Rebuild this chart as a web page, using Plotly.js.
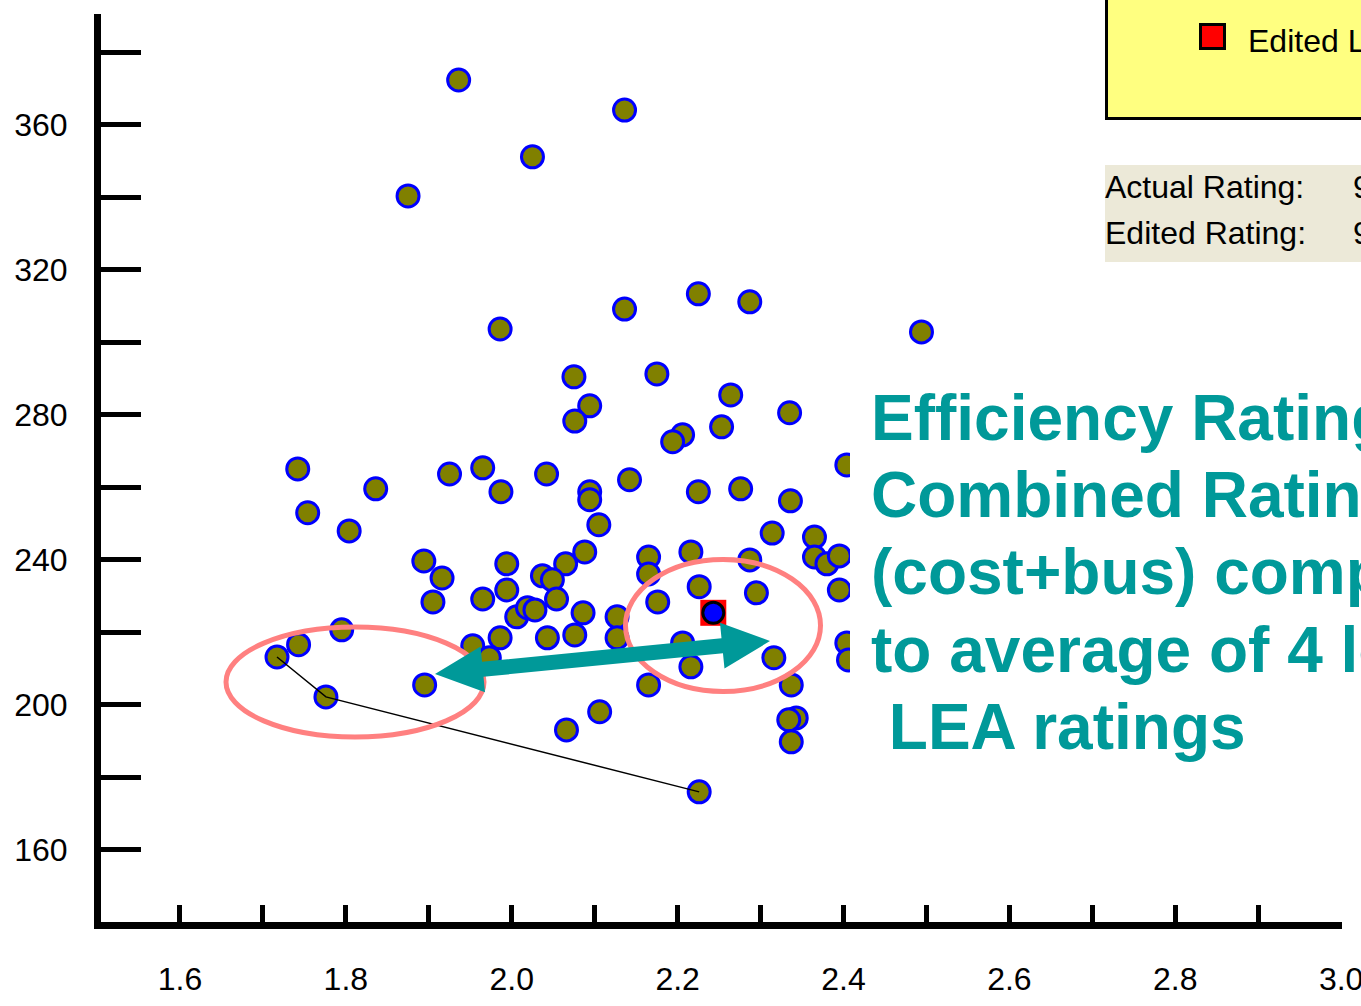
<!DOCTYPE html>
<html>
<head>
<meta charset="utf-8">
<script src="https://cdn.plot.ly/plotly-3.0.1.min.js"></script>
<style>
  html, body { margin: 0; padding: 0; background: #ffffff; overflow: hidden; }
  #chart { width: 1361px; height: 1006px; }
</style>
</head>
<body>
<div id="chart"></div>
<script>
// ---- Data ----
const leaX = [
  1.936, 2.136, 2.025, 1.875, 1.986, 2.136, 2.225, 2.287, 2.494,
  2.075, 2.175, 2.094, 2.076, 2.264, 2.335, 2.206, 2.194, 2.253,
  1.742, 1.925, 1.965, 2.042, 2.142, 2.404,
  1.836, 1.754, 1.987, 2.094, 2.094, 2.225, 2.276, 2.336,
  2.105, 1.804, 2.314,
  2.365, 2.365, 2.380, 2.395, 2.395,
  1.894, 1.916, 1.905,
  1.994, 2.088, 2.065, 2.037, 2.049,
  1.965, 1.994, 2.054,
  2.006, 2.019, 2.028, 2.086, 2.127,
  1.986, 2.043, 2.076, 2.127, 1.953, 1.973,
  2.165, 2.165, 2.216, 2.287, 2.226, 2.295, 2.176,
  2.206, 2.216, 2.165, 2.316, 2.337, 2.343, 2.334, 2.337, 2.404, 2.406,
  1.795, 1.743, 1.717, 1.776, 1.895,
  2.106, 2.066, 2.226
];
const leaY = [
  372.4, 364.1, 351.2, 340.4, 303.7, 309.2, 313.4, 311.2, 302.9,
  290.5, 291.3, 282.5, 278.3, 285.5, 280.6, 274.5, 272.6, 276.7,
  265.1, 263.7, 265.4, 263.7, 262.1, 266.2,
  259.6, 253.0, 258.8, 258.8, 256.6, 258.8, 259.6, 256.3,
  249.7, 248.0, 247.4,
  246.3, 240.8, 238.9, 241.1, 231.7,
  239.7, 235.0, 228.4,
  238.9, 242.2, 238.9, 235.6, 234.5,
  229.2, 231.7, 229.2,
  224.3, 226.8, 226.2, 225.4, 224.3,
  218.5, 218.5, 219.3, 218.5, 216.3, 213.0,
  240.8, 236.1, 242.2, 240.0, 232.6, 230.9, 228.4,
  217.1, 210.5, 205.5, 213.0, 205.5, 196.4, 195.9, 189.8, 217.1, 212.4,
  220.7, 216.6, 213.2, 202.2, 205.5,
  198.1, 193.1, 176.0
];
const editedX = [2.243];
const editedY = [225.4];
const linkX = [1.717, 1.776, 2.226];
const linkY = [213.2, 202.2, 176.0];

const xTickVals = [1.6, 1.8, 2.0, 2.2, 2.4, 2.6, 2.8, 3.0];
const xTickText = ['1.6', '1.8', '2.0', '2.2', '2.4', '2.6', '2.8', '3.0'];
const yTickVals = [160, 200, 240, 280, 320, 360];
const yTickText = ['160', '200', '240', '280', '320', '360'];

const noteLines = ['Efficiency Rating', 'Combined Rating', '(cost+bus) compared', 'to average of 4 low', ' LEA ratings'];
const legendLabel = 'Edited LEA';
const panelLabels = ['Actual Rating:', 'Edited Rating:'];
const panelValues = ['9', '9'];

// ---- Layout helpers (pixel -> paper) ----
const W = 1361, H = 1006;
const PL = 101, PR = 1342, PT = 14, PB = 922;
const XR = [1.5048, 3.001], YR = [140.1, 390.6];
function px(x) { return (x - PL) / (PR - PL); }
function py(y) { return (PB - y) / (PB - PT); }

const baseFamily = '"Liberation Sans", Arial, sans-serif';
const tickFont = { family: baseFamily, size: 32, color: '#000000' };
const teal = '#009999';

const traces = [
  {
    type: 'scatter', mode: 'markers', x: leaX, y: leaY,
    marker: { symbol: 'circle', size: 22, color: '#808000', line: { color: '#0000ff', width: 3 } },
    hoverinfo: 'skip'
  },
  {
    type: 'scatter', mode: 'lines', x: linkX, y: linkY,
    line: { color: '#000000', width: 1.5 }, hoverinfo: 'skip'
  },
  {
    type: 'scatter', mode: 'markers', x: editedX, y: editedY,
    marker: { symbol: 'square', size: 26, color: '#ff0000', line: { width: 0 } },
    hoverinfo: 'skip'
  },
  {
    type: 'scatter', mode: 'markers', x: editedX, y: editedY,
    marker: { symbol: 'circle', size: 21, color: '#0000ff', line: { color: '#000000', width: 3 } },
    hoverinfo: 'skip'
  }
];

// Double-headed arrow polygon (pixel geometry)
function arrowPath(L, R, h, w, s) {
  const dx = R[0] - L[0], dy = R[1] - L[1];
  const len = Math.hypot(dx, dy);
  const u = [dx / len, dy / len], n = [-u[1], u[0]];
  const P = (base, a, b) => [base[0] + u[0] * a + n[0] * b, base[1] + u[1] * a + n[1] * b];
  const pts = [
    L, P(L, h, w), P(L, h, s), P(R, -h, s), P(R, -h, w), R,
    P(R, -h, -w), P(R, -h, -s), P(L, h, -s), P(L, h, -w)
  ];
  return 'M' + pts.map(p => px(p[0]).toFixed(5) + ',' + py(p[1]).toFixed(5)).join(' L') + ' Z';
}

const shapes = [
  // white panel behind the note text
  { type: 'rect', xref: 'paper', yref: 'paper', layer: 'above',
    x0: px(850), x1: px(1400), y0: py(800), y1: py(365),
    fillcolor: '#ffffff', line: { width: 0 } },
  // ellipses
  { type: 'circle', xref: 'paper', yref: 'paper', layer: 'above',
    x0: px(226), x1: px(484), y0: py(737), y1: py(627),
    line: { color: '#ff8080', width: 5 } },
  { type: 'circle', xref: 'paper', yref: 'paper', layer: 'above',
    x0: px(625.5), x1: px(820.5), y0: py(691.5), y1: py(559.5),
    line: { color: '#ff8080', width: 5 } },
  // arrow
  { type: 'path', xref: 'paper', yref: 'paper', layer: 'above',
    path: arrowPath([435, 674], [770, 641], 48, 23, 7.5),
    fillcolor: teal, line: { width: 0 } },
  // yellow legend box
  { type: 'rect', xref: 'paper', yref: 'paper', layer: 'above',
    x0: px(1106.5), x1: px(1420), y0: py(118.5), y1: py(-20),
    fillcolor: '#ffff80', line: { color: '#000000', width: 3 } },
  { type: 'rect', xref: 'paper', yref: 'paper', layer: 'above',
    x0: px(1200.5), x1: px(1224.5), y0: py(48.5), y1: py(24.5),
    fillcolor: '#ff0000', line: { color: '#000000', width: 3 } },
  // grey info panel
  { type: 'rect', xref: 'paper', yref: 'paper', layer: 'above',
    x0: px(1105), x1: px(1420), y0: py(262), y1: py(165),
    fillcolor: '#ece9d8', line: { width: 0 } }
];

const noteFont = { family: baseFamily, size: 64, color: teal, weight: 'bold' };
const noteX = [869, 869, 869, 869, 869];
const noteY = [418, 495, 572, 650, 727];
const annotations = noteLines.map((t, i) => ({
  xref: 'paper', yref: 'paper', x: px(noteX[i]), y: py(noteY[i]),
  xanchor: 'left', yanchor: 'middle', showarrow: false, align: 'left',
  text: t.replace(/^ /, '&nbsp;'), font: noteFont
}));

const smallFont = { family: baseFamily, size: 32, color: '#000000' };
annotations.push({
  xref: 'paper', yref: 'paper', x: px(1246), y: py(41), xanchor: 'left', yanchor: 'middle',
  showarrow: false, text: legendLabel, font: smallFont
});
panelLabels.forEach((t, i) => {
  annotations.push({
    xref: 'paper', yref: 'paper', x: px(1103), y: py(187 + i * 46), xanchor: 'left', yanchor: 'middle',
    showarrow: false, text: t, font: smallFont
  });
  annotations.push({
    xref: 'paper', yref: 'paper', x: px(1351), y: py(187 + i * 46), xanchor: 'left', yanchor: 'middle',
    showarrow: false, text: panelValues[i], font: smallFont
  });
});

const layout = {
  width: W, height: H,
  margin: { l: PL, r: W - PR, t: PT, b: H - PB, pad: 0 },
  paper_bgcolor: '#ffffff', plot_bgcolor: '#ffffff',
  showlegend: false, hovermode: false,
  xaxis: {
    range: XR, showgrid: false, zeroline: false,
    showline: true, linecolor: '#000000', linewidth: 7,
    ticks: 'inside', ticklen: 17, tickwidth: 5, tickcolor: '#000000',
    tickmode: 'array', tickvals: xTickVals, ticktext: xTickText,
    minor: { tickmode: 'linear', tick0: 1.5, dtick: 0.1, ticks: 'inside', ticklen: 17, tickwidth: 5, tickcolor: '#000000', showgrid: false },
    tickfont: tickFont, ticklabelstandoff: 23, ticklabeloverflow: 'allow'
  },
  yaxis: {
    range: YR, showgrid: false, zeroline: false,
    showline: true, linecolor: '#000000', linewidth: 7,
    ticks: 'inside', ticklen: 40, tickwidth: 5, tickcolor: '#000000',
    tickmode: 'array', tickvals: yTickVals, ticktext: yTickText,
    minor: { tickmode: 'linear', tick0: 0, dtick: 20, ticks: 'inside', ticklen: 40, tickwidth: 5, tickcolor: '#000000', showgrid: false },
    tickfont: tickFont, ticklabelstandoff: 20, ticklabeloverflow: 'allow'
  },
  shapes: shapes,
  annotations: annotations
};

Plotly.newPlot('chart', traces, layout, { staticPlot: true, displayModeBar: false });
</script>
</body>
</html>
